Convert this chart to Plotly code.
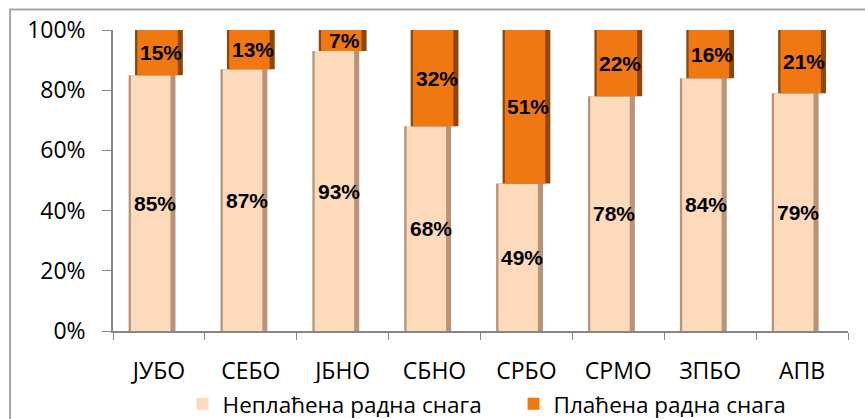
import plotly.graph_objects as go

categories = ["ЈУБО", "СЕБО", "ЈБНО", "СБНО", "СРБО", "СРМО", "ЗПБО", "АПВ"]
unpaid = [85, 87, 93, 68, 49, 78, 84, 79]
paid = [15, 13, 7, 32, 51, 22, 16, 21]
series_names = ["Неплаћена радна снага", "Плаћена радна снага"]
y_ticks = [0, 20, 40, 60, 80, 100]
y_tick_labels = ["0%", "20%", "40%", "60%", "80%", "100%"]

label_font = dict(family="Liberation Sans Narrow, Arial Narrow, Liberation Sans, sans-serif", size=21,
                  color="black", weight="bold")
axis_font = dict(family="Open Sans, sans-serif", size=23, color="black")

fig = go.Figure()

# Unpaid: dark edge + light body
fig.add_trace(go.Bar(
    x=categories, y=unpaid, base=0, width=0.51, offset=-0.33,
    marker=dict(color="#B89378", line=dict(width=0)), showlegend=False, hoverinfo="skip"))
fig.add_trace(go.Bar(
    x=categories, y=unpaid, base=0, width=0.43, offset=-0.305,
    marker=dict(color="#FDDABC", line=dict(width=0)), name=series_names[0], hoverinfo="skip"))
# Paid: dark edge + orange body
fig.add_trace(go.Bar(
    x=categories, y=paid, base=unpaid, width=0.52, offset=-0.26,
    marker=dict(color="#8F4608", line=dict(width=0)), showlegend=False, hoverinfo="skip"))
fig.add_trace(go.Bar(
    x=categories, y=paid, base=unpaid, width=0.44, offset=-0.235,
    marker=dict(color="#EF7812", line=dict(width=0)), name=series_names[1], hoverinfo="skip"))

annotations = []
for c, u, p in zip(categories, unpaid, paid):
    annotations.append(dict(x=c, y=u / 2, xref="x", yref="y", text=f"{u}%", showarrow=False,
                            xshift=-4, font=label_font))
    annotations.append(dict(x=c, y=u + p / 2, xref="x", yref="y", text=f"{p}%", showarrow=False,
                            xshift=2, font=label_font))

fig.update_layout(
    width=865, height=419,
    barmode="overlay",
    paper_bgcolor="white", plot_bgcolor="white",
    margin=dict(l=113, r=17, t=29.5, b=87.5, autoexpand=False),
    xaxis=dict(
        type="category", showgrid=False, showline=True, linecolor="#868686", linewidth=1.5,
        ticks="outside", tickson="boundaries", ticklen=7, tickcolor="#868686",
        tickfont=axis_font, ticklabelstandoff=19, range=[-0.5, 7.5], automargin=False,
    ),
    yaxis=dict(
        range=[0, 100], tickvals=y_ticks, ticktext=y_tick_labels, showgrid=False,
        showline=True, linecolor="#868686", linewidth=1.5, ticks="outside", ticklen=9,
        tickcolor="#868686", tickfont=axis_font, ticklabelstandoff=12, zeroline=False,
        automargin=False,
    ),
    legend=dict(
        orientation="h", x=0.545, xanchor="center", y=-0.243, yanchor="middle",
        font=dict(family="Open Sans, sans-serif", size=22.5, color="black"),
        traceorder="normal", entrywidth=286, itemwidth=30,
    ),
    annotations=annotations,
    shapes=[dict(type="rect", xref="paper", yref="paper",
                 x0=-0.1401, x1=1.2, y0=-0.5, y1=1.0679,
                 line=dict(color="#A6A6A6", width=2), layer="below")],
)

fig.write_html("out.html", config={"displayModeBar": False},
               post_script="document.body.style.margin='0';")
